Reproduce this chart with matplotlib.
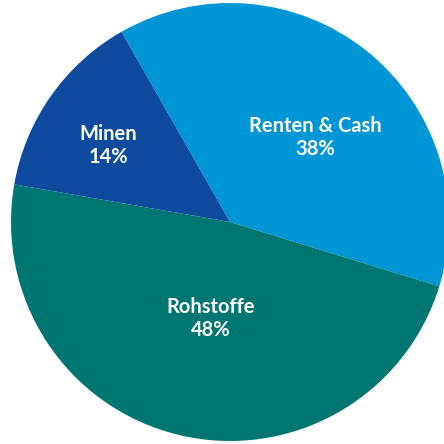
import matplotlib
matplotlib.use("Agg")
import matplotlib.pyplot as plt

labels = ["Renten & Cash", "Rohstoffe", "Minen"]
shares = [38, 48, 14]
colors = ["#0096d6", "#007673", "#0e4b9e"]

# label centres in data units (pie radius = 1)
label_pos = [(0.39, 0.385), (-0.087, -0.44), (-0.557, 0.35)]

fig = plt.figure(figsize=(4.44, 4.44), dpi=100)
ax = fig.add_axes([0, 0, 1, 1])

ax.pie(shares, colors=colors, startangle=119.7, counterclock=False,
       radius=1, wedgeprops=dict(linewidth=0))

r = 219.0
ax.set_xlim(-230 / r, (444 - 230) / r)
ax.set_ylim(-(444 - 222) / r, 222 / r)
ax.set_aspect("equal")
ax.axis("off")

for lab, val, (x, y) in zip(labels, shares, label_pos):
    ax.text(x, y, "%s\n%d%%" % (lab, val), ha="center", va="center",
            color="white", fontsize=14.5, fontweight="bold", family="Lato",
            linespacing=1.15)

plt.savefig("out.png", dpi=100)
